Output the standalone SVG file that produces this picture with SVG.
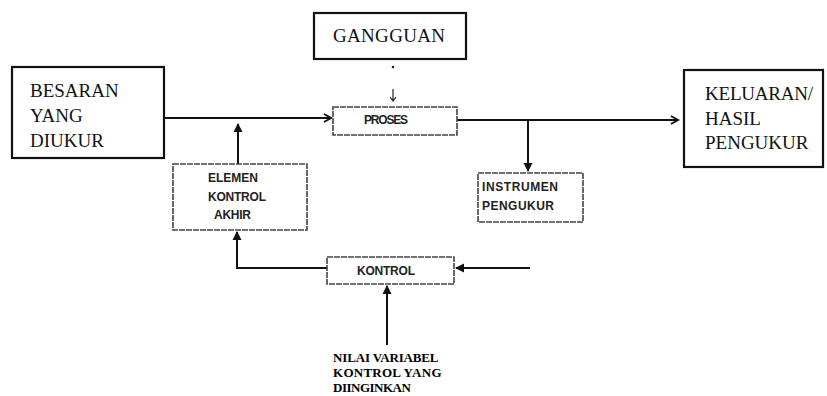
<svg xmlns="http://www.w3.org/2000/svg" width="827" height="396" viewBox="0 0 827 396">
<style>
.big{fill:#fff;stroke:#111;stroke-width:2.2}
.small{fill:#fff;stroke:#444;stroke-width:1.6;stroke-dasharray:6 1}
.serif{font-family:"Liberation Serif","Times New Roman",serif;font-size:19px;fill:#111}
.sans{font-family:"Liberation Sans",Arial,sans-serif;font-size:12px;font-weight:bold;fill:#222}
.ln{fill:none;stroke:#111;stroke-width:2}
.bot{font-family:"Liberation Serif","Times New Roman",serif;font-size:13px;font-weight:bold;fill:#000;letter-spacing:-0.5px}
</style>
<defs>
<marker id="chev" markerWidth="10" markerHeight="10" refX="8" refY="5" orient="auto" markerUnits="userSpaceOnUse">
<path d="M1,1 L8,5 L1,9" fill="none" stroke="#111" stroke-width="2"/>
</marker>
<marker id="tri" markerWidth="10" markerHeight="10" refX="8" refY="5" orient="auto" markerUnits="userSpaceOnUse">
<path d="M0,0.5 L9,5 L0,9.5 Z" fill="#111"/>
</marker>
</defs>
<g id="connectors">
<line class="ln" x1="164" y1="118" x2="331" y2="118" marker-end="url(#chev)"/>
<line class="ln" x1="457" y1="120" x2="678" y2="120" marker-end="url(#chev)"/>
<line class="ln" x1="528" y1="120" x2="528" y2="171" marker-end="url(#tri)"/>
<line class="ln" x1="238" y1="164" x2="238" y2="124" marker-end="url(#tri)"/>
<polyline class="ln" points="327,268 237,268 237,232" marker-end="url(#tri)"/>
<line class="ln" x1="530" y1="268" x2="456" y2="268" marker-end="url(#tri)"/>
<line class="ln" x1="387" y1="345" x2="387" y2="286" marker-end="url(#tri)"/>
<circle cx="393" cy="67" r="1.3" fill="#222"/>
<path d="M393,89 L393,101 M390,97 L393,101 L396,97" fill="none" stroke="#222" stroke-width="1.2"/>
</g>
<g id="besaran">
<rect class="big" x="12" y="67" width="152" height="91"/>
<text class="serif" x="30" y="97">BESARAN</text>
<text class="serif" x="30" y="122">YANG</text>
<text class="serif" x="30" y="147">DIUKUR</text>
</g>
<g id="gangguan">
<rect class="big" x="314" y="13" width="152" height="46"/>
<text class="serif" x="333" y="42" textLength="112">GANGGUAN</text>
</g>
<g id="proses">
<rect class="small" x="333" y="107" width="124" height="28"/>
<text class="sans" x="364" y="124" textLength="44">PROSES</text>
</g>
<g id="keluaran">
<rect class="big" x="684" y="70" width="139" height="97"/>
<text class="serif" x="705" y="100" textLength="108">KELUARAN/</text>
<text class="serif" x="705" y="125">HASIL</text>
<text class="serif" x="705" y="149">PENGUKUR</text>
</g>
<g id="instrumen">
<rect class="small" x="478" y="173" width="105" height="49"/>
<text class="sans" x="482" y="191" font-weight="normal" textLength="76">INSTRUMEN</text>
<text class="sans" x="482" y="210" font-weight="normal" textLength="72">PENGUKUR</text>
</g>
<g id="elemen">
<rect class="small" x="173" y="164" width="134" height="66"/>
<text class="sans" x="208" y="182" textLength="50">ELEMEN</text>
<text class="sans" x="208" y="201" textLength="58">KONTROL</text>
<text class="sans" x="214" y="219" textLength="37">AKHIR</text>
</g>
<g id="kontrol">
<rect class="small" x="327" y="257" width="127" height="27"/>
<text class="sans" x="357" y="275" textLength="58">KONTROL</text>
</g>
<g id="nilai">
<text class="bot" x="333" y="362" textLength="105">NILAI VARIABEL</text>
<text class="bot" x="333" y="377" textLength="108">KONTROL YANG</text>
<text class="bot" x="333" y="392">DIINGINKAN</text>
</g>
</svg>
